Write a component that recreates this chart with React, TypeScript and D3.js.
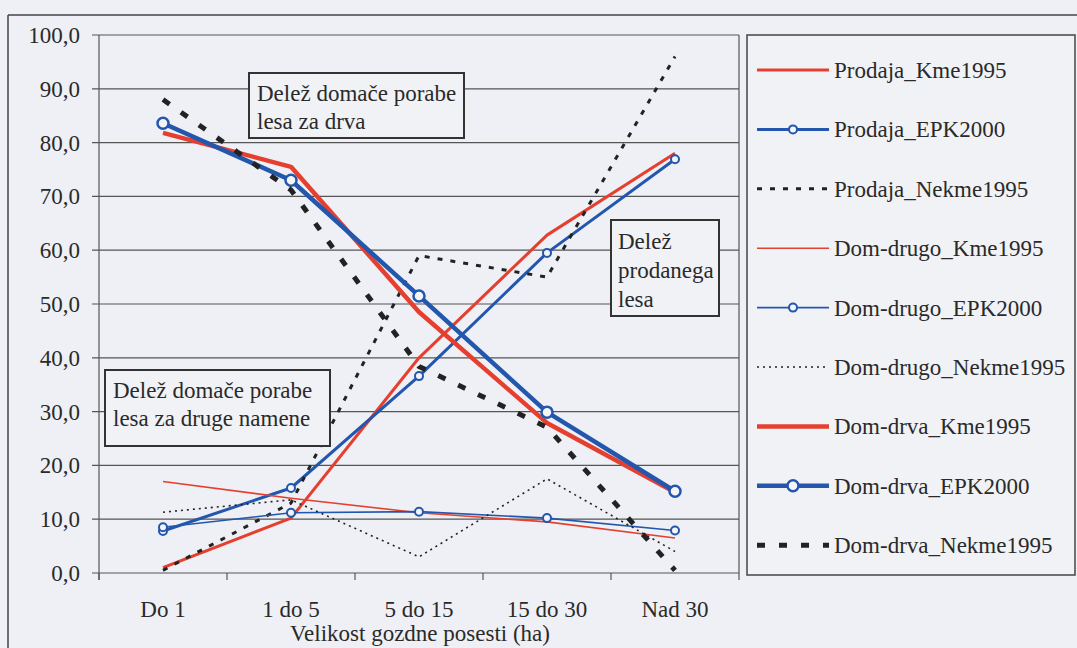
import React from "react";
import * as d3 from "d3";

const categories = ["Do 1", "1 do 5", "5 do 15", "15 do 30", "Nad 30"];
const yTicks = [0, 10, 20, 30, 40, 50, 60, 70, 80, 90, 100];

const prodajaKme1995 = [1.0, 10.2, 40.0, 62.8, 78.0];
const prodajaEPK2000 = [7.8, 15.8, 36.6, 59.5, 76.9];
const prodajaNekme1995 = [0.5, 13.0, 59.0, 55.0, 96.0];
const domDrugoKme1995 = [17.0, 13.9, 11.2, 9.5, 6.5];
const domDrugoEPK2000 = [8.5, 11.2, 11.4, 10.2, 7.9];
const domDrugoNekme1995 = [11.3, 13.6, 3.0, 17.5, 4.0];
const domDrvaKme1995 = [81.8, 75.5, 48.5, 27.9, 15.0];
const domDrvaEPK2000 = [83.6, 73.0, 51.5, 29.9, 15.2];
const domDrvaNekme1995 = [88.0, 71.2, 38.4, 27.1, 0.5];

const RED = "#e5402f";
const BLUE = "#2356ad";
const BLACK = "#222";

type Series = {
  name: string;
  values: number[];
  color: string;
  width: number;
  dash?: string;
  marker?: number;
};

const series: Series[] = [
  { name: "Prodaja_Kme1995", values: prodajaKme1995, color: RED, width: 3 },
  { name: "Prodaja_EPK2000", values: prodajaEPK2000, color: BLUE, width: 3, marker: 4 },
  { name: "Prodaja_Nekme1995", values: prodajaNekme1995, color: BLACK, width: 3, dash: "5,8" },
  { name: "Dom-drugo_Kme1995", values: domDrugoKme1995, color: RED, width: 1.6 },
  { name: "Dom-drugo_EPK2000", values: domDrugoEPK2000, color: BLUE, width: 1.6, marker: 4 },
  { name: "Dom-drugo_Nekme1995", values: domDrugoNekme1995, color: BLACK, width: 1.6, dash: "2,4" },
  { name: "Dom-drva_Kme1995", values: domDrvaKme1995, color: RED, width: 4.5 },
  { name: "Dom-drva_EPK2000", values: domDrvaEPK2000, color: BLUE, width: 4.5, marker: 5.5 },
  { name: "Dom-drva_Nekme1995", values: domDrvaNekme1995, color: BLACK, width: 5, dash: "8,14" },
];

const FONT = "'Liberation Serif', 'Times New Roman', serif";
const TXT = "#2a2a2a";

export default function App() {
  const W = 1077, H = 648;
  const left = 99, right = 739, top = 35, bottom = 573;
  const x = d3.scaleBand<string>().domain(categories).range([left, right]).padding(0);
  const cx = (c: string) => (x(c) as number) + x.bandwidth() / 2;
  const y = d3.scaleLinear().domain([0, 100]).range([bottom, top]);
  const line = d3
    .line<number>()
    .x((_, i) => cx(categories[i]))
    .y((d) => y(d));
  const fmt = (v: number) => v.toFixed(1).replace(".", ",");

  const legX = 747, legY = 35, legW = 328, legH = 540;
  const legStart = 70, legStep = 59.4;

  const boundaries = d3.range(categories.length + 1).map((i) => left + i * x.bandwidth());

  return (
    <svg
      width={W}
      height={H}
      style={{ position: "absolute", left: 0, top: 0, fontFamily: FONT }}
    >
      <rect x={0} y={0} width={W} height={H} fill="#eef0f5" />
      {/* outer frame */}
      <line x1={8} y1={15} x2={W} y2={15} stroke="#444" strokeWidth={1.5} />
      <line x1={8} y1={15} x2={8} y2={H} stroke="#444" strokeWidth={1.5} />

      {/* gridlines */}
      {yTicks.map((t) => (
        <g key={t}>
          <line x1={left - 7} x2={right} y1={y(t)} y2={y(t)} stroke="#555" strokeWidth={1.2} />
          <text
            x={80}
            y={y(t)}
            dy="0.35em"
            textAnchor="end"
            fontSize={23}
            fill={TXT}
          >
            {fmt(t)}
          </text>
        </g>
      ))}
      <line x1={left} x2={left} y1={top} y2={bottom + 7} stroke="#555" strokeWidth={1.2} />
      <line x1={right} x2={right} y1={top} y2={bottom} stroke="#555" strokeWidth={1.2} />
      {boundaries.map((b, i) => (
        <line key={i} x1={b} x2={b} y1={bottom} y2={bottom + 7} stroke="#555" strokeWidth={1.2} />
      ))}
      {categories.map((c) => (
        <text key={c} x={cx(c)} y={617} textAnchor="middle" fontSize={23} fill={TXT}>
          {c}
        </text>
      ))}
      <text x={420} y={641} textAnchor="middle" fontSize={23} fill={TXT}>
        Velikost gozdne posesti (ha)
      </text>

      {/* series */}
      {series.map((s) => (
        <g key={s.name}>
          <path
            d={line(s.values) as string}
            fill="none"
            stroke={s.color}
            strokeWidth={s.width}
            strokeDasharray={s.dash}
            strokeLinejoin="round"
          />
          {s.marker &&
            s.values.map((v, i) => (
              <circle
                key={i}
                cx={cx(categories[i])}
                cy={y(v)}
                r={s.marker}
                fill="#f4f5f8"
                stroke={s.color}
                strokeWidth={s.width > 3 ? 2.5 : 2}
              />
            ))}
        </g>
      ))}

      {/* annotation boxes */}
      <g fontSize={23} fill={TXT}>
        <rect x={249} y={73} width={215} height={65} fill="#f1f2f6" stroke="#333" strokeWidth={2} />
        <text x={257} y={101} fill={TXT}>Delež domače porabe</text>
        <text x={257} y={129} fill={TXT}>lesa za drva</text>

        <rect x={105} y={370} width={225} height={76} fill="#f1f2f6" stroke="#333" strokeWidth={2} />
        <text x={113} y={398} fill={TXT}>Delež domače porabe</text>
        <text x={113} y={426} fill={TXT}>lesa za druge namene</text>

        <rect x={611} y={220} width={108} height={96} fill="#f1f2f6" stroke="#333" strokeWidth={2} />
        <text x={618} y={249} fill={TXT}>Delež</text>
        <text x={618} y={278} fill={TXT}>prodanega</text>
        <text x={618} y={307} fill={TXT}>lesa</text>
      </g>

      {/* legend */}
      <rect x={legX} y={legY} width={legW} height={legH} fill="#f1f2f6" stroke="#444" strokeWidth={1.5} />
      {series.map((s, i) => {
        const ly = legStart + i * legStep;
        return (
          <g key={s.name}>
            <line
              x1={757}
              x2={829}
              y1={ly}
              y2={ly}
              stroke={s.color}
              strokeWidth={s.width}
              strokeDasharray={s.dash}
            />
            {s.marker && (
              <circle
                cx={793}
                cy={ly}
                r={s.marker}
                fill="#f4f5f8"
                stroke={s.color}
                strokeWidth={s.width > 3 ? 2.5 : 2}
              />
            )}
            <text x={834} y={ly} dy="0.35em" fontSize={23} fill={TXT}>
              {s.name}
            </text>
          </g>
        );
      })}
    </svg>
  );
}
